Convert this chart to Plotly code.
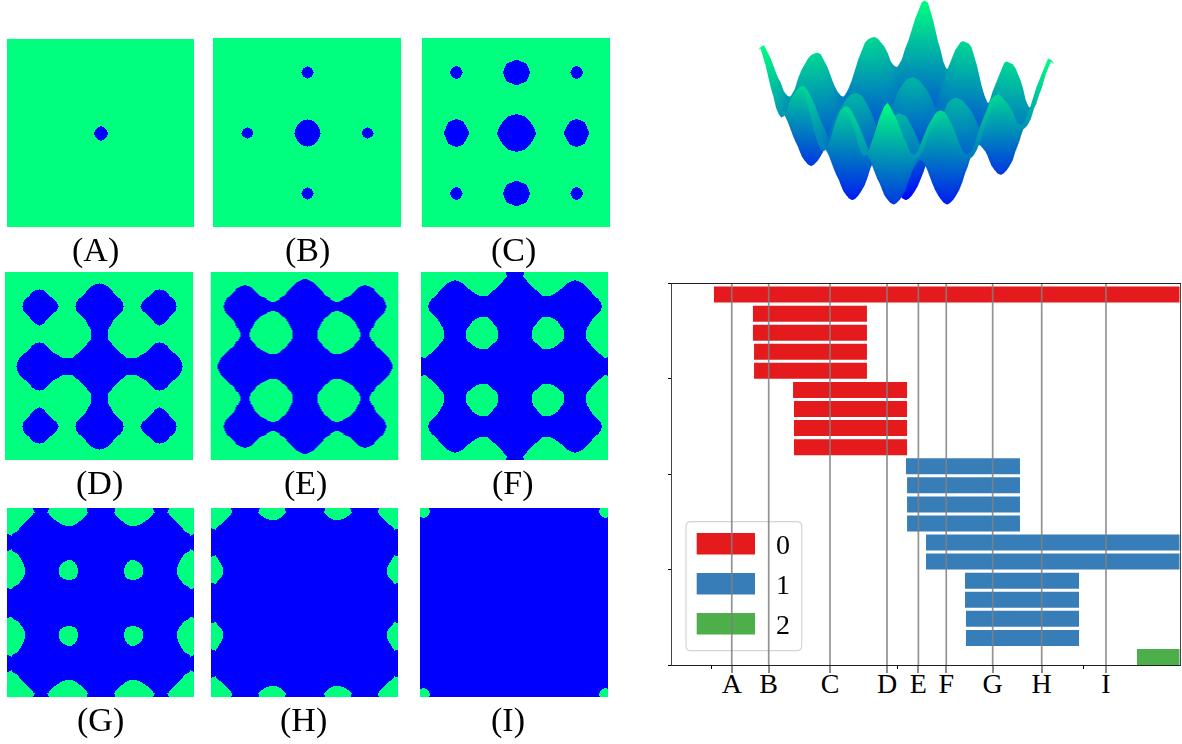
import plotly.graph_objects as go

W, H = 1182, 744
GRID = [-1.5625, -1.5, -1.4375, -1.375, -1.3125, -1.25, -1.1875, -1.125, -1.0625, -1, -0.9375, -0.875, -0.8125,
        -0.75, -0.6875, -0.625, -0.5625, -0.5, -0.4375, -0.375, -0.3125, -0.25, -0.1875, -0.125, -0.0625, 0,
        0.0625, 0.125, 0.1875, 0.25, 0.3125, 0.375, 0.4375, 0.5, 0.5625, 0.625, 0.6875, 0.75, 0.8125, 0.875,
        0.9375, 1, 1.0625, 1.125, 1.1875, 1.25, 1.3125, 1.375, 1.4375, 1.5, 1.5625]
R0 = [29,30,27,24,20,16,13,9,7,6,7,9,13,16,18,20,21,21,20,17,14,10,6,3,1,0,1,3,6,10,14,17,20,21,21,20,18,16,13,9,7,6,7,9,13,16,20,24,27,30,29]
R1 = [30,31,28,25,21,17,14,10,8,7,8,10,14,17,19,21,22,22,21,18,15,11,7,4,2,1,2,4,7,11,15,18,21,22,22,21,19,17,14,10,8,7,8,10,14,17,21,25,28,31,30]
R3 = [32,33,30,27,23,19,16,12,10,9,10,12,16,19,21,23,24,24,23,20,17,13,9,6,4,3,4,6,9,13,17,20,23,24,24,23,21,19,16,12,10,9,10,12,16,19,23,27,30,33,32]
R6 = [35,36,33,30,26,22,19,15,13,12,13,15,19,22,24,26,27,27,26,23,20,16,12,9,7,6,7,9,12,16,20,23,26,27,27,26,24,22,19,15,13,12,13,15,19,22,26,30,33,36,35]
R7 = [36,37,34,31,27,23,20,16,14,13,14,16,20,23,25,27,28,28,27,24,21,17,13,10,8,7,8,10,13,17,21,24,27,28,28,27,25,23,20,16,14,13,14,16,20,23,27,31,34,37,36]
R9 = [38,39,36,33,29,25,22,18,16,15,16,18,22,25,27,29,30,30,29,26,23,19,15,12,10,9,10,12,15,19,23,26,29,30,30,29,27,25,22,18,16,15,16,18,22,25,29,33,36,39,38]
R10 = [39,40,37,34,30,26,23,19,17,16,17,19,23,26,28,30,31,31,30,27,24,20,16,13,11,10,11,13,16,20,24,27,30,31,31,30,28,26,23,19,17,16,17,19,23,26,30,34,37,40,39]
R13 = [42,43,40,37,33,29,26,22,20,19,20,22,26,29,31,33,34,34,33,30,27,23,19,16,14,13,14,16,19,23,27,30,33,34,34,33,31,29,26,22,20,19,20,22,26,29,33,37,40,43,42]
R14 = [43,44,41,38,34,30,27,23,21,20,21,23,27,30,32,34,35,35,34,31,28,24,20,17,15,14,15,17,20,24,28,31,34,35,35,34,32,30,27,23,21,20,21,23,27,30,34,38,41,44,43]
R16 = [45,46,43,40,36,32,29,25,23,22,23,25,29,32,34,36,37,37,36,33,30,26,22,19,17,16,17,19,22,26,30,33,36,37,37,36,34,32,29,25,23,22,23,25,29,32,36,40,43,46,45]
R17 = [46,47,44,41,37,33,30,26,24,23,24,26,30,33,35,37,38,38,37,34,31,27,23,20,18,17,18,20,23,27,31,34,37,38,38,37,35,33,30,26,24,23,24,26,30,33,37,41,44,47,46]
R18 = [47,48,45,42,38,34,31,27,25,24,25,27,31,34,36,38,39,39,38,35,32,28,24,21,19,18,19,21,24,28,32,35,38,39,39,38,36,34,31,27,25,24,25,27,31,34,38,42,45,48,47]
R20 = [49,50,47,44,40,36,33,29,27,26,27,29,33,36,38,40,41,41,40,37,34,30,26,23,21,20,21,23,26,30,34,37,40,41,41,40,38,36,33,29,27,26,27,29,33,36,40,44,47,50,49]
R21 = [50,51,48,45,41,37,34,30,28,27,28,30,34,37,39,41,42,42,41,38,35,31,27,24,22,21,22,24,27,31,35,38,41,42,42,41,39,37,34,30,28,27,28,30,34,37,41,45,48,51,50]
R24 = [53,54,51,48,44,40,37,33,31,30,31,33,37,40,42,44,45,45,44,41,38,34,30,27,25,24,25,27,30,34,38,41,44,45,45,44,42,40,37,33,31,30,31,33,37,40,44,48,51,54,53]
R27 = [56,57,54,51,47,43,40,36,34,33,34,36,40,43,45,47,48,48,47,44,41,37,33,30,28,27,28,30,33,37,41,44,47,48,48,47,45,43,40,36,34,33,34,36,40,43,47,51,54,57,56]
R29 = [58,59,56,53,49,45,42,38,36,35,36,38,42,45,47,49,50,50,49,46,43,39,35,32,30,29,30,32,35,39,43,46,49,50,50,49,47,45,42,38,36,35,36,38,42,45,49,53,56,59,58]
R30 = [59,60,57,54,50,46,43,39,37,36,37,39,43,46,48,50,51,51,50,47,44,40,36,33,31,30,31,33,36,40,44,47,50,51,51,50,48,46,43,39,37,36,37,39,43,46,50,54,57,60,59]
FIELD = [R29,R30,R27,R24,R20,R16,R13,R9,R7,R6,R7,R9,R13,R16,R18,R20,R21,R21,R20,R17,R14,R10,R6,R3,R1,R0,
         R1,R3,R6,R10,R14,R17,R20,R21,R21,R20,R18,R16,R13,R9,R7,R6,R7,R9,R13,R16,R20,R24,R27,R30,R29]

PANEL_NAMES = ["(A)", "(B)", "(C)", "(D)", "(E)", "(F)", "(G)", "(H)", "(I)"]
PANEL_LEVELS = [2.8, 8.2, 14.4, 24.2, 28.5, 33.3, 38.5, 44.4, 55.5]

LETTERS = ["A", "B", "C", "D", "E", "F", "G", "H", "I"]
LETTER_POS = [0.108, 0.307, 0.637, 0.944, 1.113, 1.263, 1.513, 1.777, 2.123]

RED_ROWS = [19, 18, 17, 16, 15, 14, 13, 12, 11]
RED_START = [0.012, 0.222, 0.222, 0.228, 0.228, 0.438, 0.443, 0.443, 0.443]
RED_END = [2.6, 0.836, 0.836, 0.836, 0.836, 1.052, 1.052, 1.052, 1.052]
BLUE_ROWS = [10, 9, 8, 7, 6, 5, 4, 3, 2, 1]
BLUE_START = [1.046, 1.052, 1.052, 1.052, 1.154, 1.154, 1.364, 1.364, 1.369, 1.369]
BLUE_END = [1.660, 1.660, 1.660, 1.660, 2.6, 2.6, 1.978, 1.978, 1.978, 1.978]
GREEN_ROWS = [0]
GREEN_START = [2.290]
GREEN_END = [2.6]
LEGEND_NAMES = ["0", "1", "2"]
COLORS = ["#e41a1c", "#377eb8", "#4daf4a"]

SERIF = "Liberation Serif"
BLUE, SPRING = "#0000ff", "#00ff7f"


def fx(p):
    return p / W


def fy(p):
    return 1 - p / H


panel_boxes = [(7, 194, 39, 227), (213, 401, 38, 227), (422, 610, 38, 227),
               (5, 193, 272, 460), (210.5, 398.5, 272, 460), (421, 608, 272, 460),
               (7, 194, 508, 697), (211, 398, 508, 697), (420, 608, 508, 697)]
label_spots = [(96, 250), (307, 250), (513, 250), (99, 483), (305, 483), (513, 483),
               (100, 720), (304, 720), (508, 720)]

fig = go.Figure()
layout = {}
annotations = []
shapes = []
for i, (name, level) in enumerate(zip(PANEL_NAMES, PANEL_LEVELS)):
    n = i + 1
    x0, x1, y0, y1 = panel_boxes[i]
    fig.add_trace(go.Heatmap(
        x=GRID, y=GRID, z=FIELD, xaxis=f"x{n}", yaxis=f"y{n}", showscale=False,
        zmin=level - 0.01, zmax=level + 0.01, zsmooth="best",
        colorscale=[[0, BLUE], [0.5, BLUE], [0.5, SPRING], [1, SPRING]], hoverinfo="skip"))
    layout[f"xaxis{n}"] = dict(domain=[fx(x0), fx(x1)], range=[-1.5625, 1.5625], visible=False, anchor=f"y{n}")
    layout[f"yaxis{n}"] = dict(domain=[fy(y1), fy(y0)], range=[-1.5625, 1.5625], visible=False, anchor=f"x{n}")
    lx, ly = label_spots[i]
    annotations.append(dict(text=name, x=fx(lx), y=fy(ly), xref="paper", yref="paper", showarrow=False,
                            xanchor="center", yanchor="middle", font=dict(family=SERIF, size=34, color="black")))

fig.add_trace(go.Surface(
    x=GRID, y=GRID, z=FIELD, showscale=False, cmin=0, cmax=60,
    colorscale=[[0, BLUE], [1, SPRING]],
    lighting=dict(ambient=1, diffuse=0, specular=0, fresnel=0),
    hoverinfo="skip"))
axis3d = dict(visible=False, showgrid=False, zeroline=False, showticklabels=False, showbackground=False)
layout["scene"] = dict(
    domain=dict(x=[fx(740), fx(1072)], y=[fy(252), fy(0)]),
    xaxis=axis3d, yaxis=axis3d, zaxis=axis3d,
    aspectmode="manual", aspectratio=dict(x=1.78, y=1.78, z=1.34),
    camera=dict(eye=dict(x=-1.14, y=-1.48, z=0.72), center=dict(x=0, y=0, z=0),
                projection=dict(type="orthographic")),
    bgcolor="rgba(0,0,0,0)")

for rows, starts, ends, color, name in [(RED_ROWS, RED_START, RED_END, COLORS[0], LEGEND_NAMES[0]),
                                        (BLUE_ROWS, BLUE_START, BLUE_END, COLORS[1], LEGEND_NAMES[1]),
                                        (GREEN_ROWS, GREEN_START, GREEN_END, COLORS[2], LEGEND_NAMES[2])]:
    fig.add_trace(go.Bar(
        orientation="h", y=[r + 0.42 for r in rows], base=starts,
        x=[e - s for s, e in zip(starts, ends)], width=0.84, marker=dict(color=color, line=dict(width=0)),
        name=name, showlegend=False, xaxis="x10", yaxis="y10", hoverinfo="skip"))

for pos in LETTER_POS:
    fig.add_trace(go.Scatter(x=[pos, pos], y=[0, 20], mode="lines", xaxis="x10", yaxis="y10",
                             line=dict(color="rgba(128,128,128,0.85)", width=1.7),
                             showlegend=False, hoverinfo="skip"))

layout["xaxis10"] = dict(
    domain=[fx(671.7), fx(1179.5)], range=[-0.2154, 2.519], anchor="y10", showgrid=False, zeroline=False,
    showline=True, linecolor="#222222", linewidth=1.2, mirror=True,
    tickmode="array", tickvals=LETTER_POS, ticktext=LETTERS, ticks="outside", ticklen=7, ticklabelstandoff=-14,
    tickwidth=1.7, tickcolor="#8c8c8c", tickfont=dict(family=SERIF, size=28, color="black"),
    minor=dict(tickmode="array", tickvals=[0, 1, 2], ticks="outside", ticklen=3, tickwidth=1, tickcolor="black"))
layout["yaxis10"] = dict(
    domain=[fy(665), fy(283.5)], range=[0, 20], anchor="x10", showgrid=False, zeroline=False,
    showline=True, linecolor="#444444", linewidth=1.2, mirror=True,
    tickmode="array", tickvals=[0, 5, 10, 15, 20], ticks="outside", ticklen=3, tickwidth=1, tickcolor="black",
    showticklabels=False)


def rounded(x0, x1, y0, y1, r):
    xs = lambda p: f"{fx(p):.5f}"
    ys = lambda p: f"{fy(p):.5f}"
    return (f"M{xs(x0 + r)},{ys(y0)} L{xs(x1 - r)},{ys(y0)} Q{xs(x1)},{ys(y0)} {xs(x1)},{ys(y0 + r)} "
            f"L{xs(x1)},{ys(y1 - r)} Q{xs(x1)},{ys(y1)} {xs(x1 - r)},{ys(y1)} "
            f"L{xs(x0 + r)},{ys(y1)} Q{xs(x0)},{ys(y1)} {xs(x0)},{ys(y1 - r)} "
            f"L{xs(x0)},{ys(y0 + r)} Q{xs(x0)},{ys(y0)} {xs(x0 + r)},{ys(y0)} Z")


shapes.append(dict(type="path", path=rounded(686, 801.7, 521.7, 650.7, 5), xref="paper", yref="paper",
                   line=dict(color="#d4d4d4", width=1.2), fillcolor="white", layer="below"))
for k, (name, color) in enumerate(zip(LEGEND_NAMES, COLORS)):
    top = 533 + 40 * k
    shapes.append(dict(type="rect", x0=fx(696.7), x1=fx(755), y0=fy(top + 21.5), y1=fy(top), xref="paper",
                       yref="paper", line=dict(width=0), fillcolor=color, layer="below"))
    annotations.append(dict(text=name, x=fx(783), y=fy(top + 11.5), xref="paper", yref="paper", showarrow=False,
                            xanchor="center", yanchor="middle", font=dict(family=SERIF, size=28, color="black")))

fig.update_layout(width=W, height=H, autosize=False, margin=dict(l=0, r=0, t=0, b=0),
                  paper_bgcolor="white", plot_bgcolor="rgba(0,0,0,0)", showlegend=False, barmode="overlay",
                  annotations=annotations, shapes=shapes, **layout)
fig.write_html("out.html", config=dict(displayModeBar=False), post_script="document.body.style.margin='0';")
